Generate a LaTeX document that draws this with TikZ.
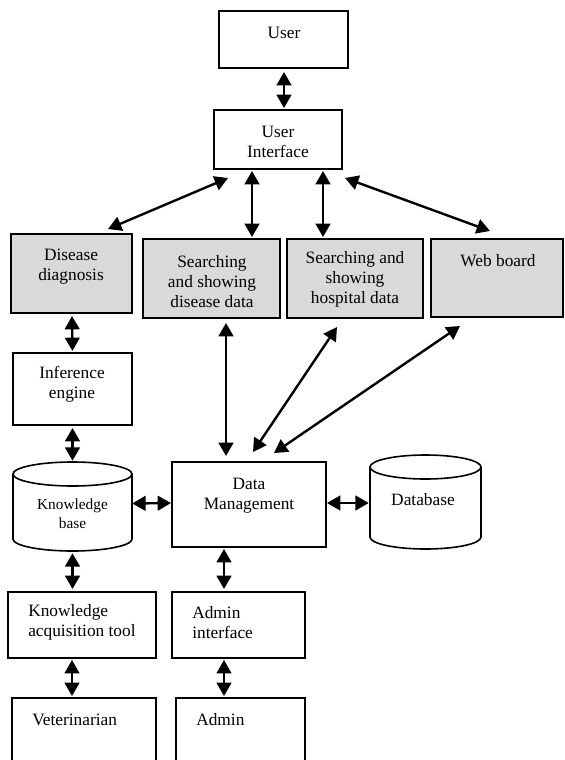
\documentclass[tikz,border=0pt]{standalone}
\usepackage{fontspec}
\setmainfont{Liberation Serif}
\usetikzlibrary{arrows.meta,calc,fit}
\definecolor{boxgray}{HTML}{D9D9D9}
\tikzset{
  box/.style={draw, line width=1.5pt, inner sep=0pt},
  graybox/.style={box, fill=boxgray},
  ghost/.style={inner sep=0pt},
  cyl/.style={draw, line width=1.2pt},
  conn/.style={{Triangle[width=11pt,length=10pt]}-{Triangle[width=11pt,length=10pt]}, line width=1.8pt},
  txt/.style={inner sep=0pt, font=\fontsize{13pt}{15pt}\selectfont, align=center},
  ltxt/.style={inner sep=0pt, font=\fontsize{13pt}{15pt}\selectfont, align=left, anchor=west},
  stxt/.style={inner sep=0pt, font=\fontsize{11.5pt}{14.25pt}\selectfont, align=center},
}
\begin{document}
\begin{tikzpicture}[x=0.75pt,y=-0.75pt]
\useasboundingbox (0,0) rectangle (564,760);
\clip (0,0) rectangle (564,760);
% boxes
\node[box, fit={(219,11) (348,68)}] (user) {};
\node[box, fit={(214,110) (342,169)}] (ui) {};
\node[graybox, fit={(11,234) (132,313)}] (dis) {};
\node[graybox, fit={(143,239) (280,318)}] (sd) {};
\node[graybox, fit={(287,239) (423,318)}] (hosp) {};
\node[graybox, fit={(431,239) (563,317)}] (web) {};
\node[box, fit={(13,353) (132,425)}] (inf) {};
\node[ghost, fit={(13,462) (132,551)}] (kb) {};
\node[box, fit={(172,462) (326,547)}] (dm) {};
\node[ghost, fit={(370,455) (481,549)}] (db) {};
\node[box, fit={(8,592) (156,658)}] (kat) {};
\node[box, fit={(172,592) (305,658)}] (ai) {};
\node[box, fit={(12,698) (156,780)}] (vet) {};
\node[box, fit={(176,698) (305,780)}] (adm) {};
% cylinders
\draw[cyl] (72.5,474) ellipse [x radius=44.625pt, y radius=9pt];
\draw[cyl] (13,474) -- (13,539) arc[start angle=180, end angle=360, x radius=44.625pt, y radius=9pt] -- (132,474);
\draw[cyl] (425.5,467) ellipse [x radius=41.625pt, y radius=9pt];
\draw[cyl] (370,467) -- (370,537) arc[start angle=180, end angle=360, x radius=41.625pt, y radius=9pt] -- (481,467);
% texts
\node[txt] (tuser) at (284,33) {User};
\node[txt] (tui) at (278,142) {User\\Interface};
\node[txt] (tdis) at (71,267) {Disease\\diagnosis};
\node[txt] (tsd) at (212,282) {Searching\\and showing\\disease data};
\node[txt] (thosp) at (355,279) {Searching and\\showing\\hospital data};
\node[txt] (tweb) at (498,261) {Web board};
\node[txt] (tinf) at (72,384.5) {Inference\\engine};
\node[stxt] (tkb) at (72.5,513.5) {Knowledge\\base};
\node[txt] (tdm) at (249,495.5) {Data\\Management};
\node[txt] (tdb) at (423,500) {Database};
\node[ltxt] (tkat) at (28,622) {Knowledge\\acquisition tool};
\node[ltxt] (tai) at (192,623) {Admin\\interface};
\node[ltxt] (tvet) at (32,720) {Veterinarian};
\node[ltxt] (tadm) at (196,720) {Admin};
% connectors
\draw[conn] ($(user.south)+(0.5,3)$) -- ($(ui.north)+(6,-1)$);
\draw[conn] ($(ui.south)+(-50,8)$) -- ($(dis.north)+(36.5,-4)$);
\draw[conn] ($(ui.south)+(-26,1)$) -- ($(sd.north)+(40.5,-1)$);
\draw[conn] ($(ui.south)+(45,1)$) -- ($(hosp.north)+(-32,-1)$);
\draw[conn] ($(ui.south east)+(2,8)$) -- ($(web.north)+(-7,-7)$);
\draw[conn] ($(dis.south)+(0.5,2)$) -- ($(inf.north)+(0,-1)$);
\draw[conn] ($(inf.south)+(0,2)$) -- ($(kb.north)+(0,-1)$);
\draw[conn] ($(sd.south)+(14.5,4)$) -- ($(dm.north)+(-23,-5)$);
\draw[conn] ($(hosp.south)+(-18,8)$) -- ($(dm.north)+(4,-9)$);
\draw[conn] ($(web.south)+(-37,8)$) -- ($(dm.north)+(25,-8)$);
\draw[conn] ($(kb.east)+(0,-3)$) -- ($(dm.west)+(0,-1.5)$);
\draw[conn] ($(dm.east)+(0,-1.5)$) -- ($(db.west)+(-1,1)$);
\draw[conn] ($(kb.south)+(0,2)$) -- ($(kat.north)+(-9.5,-2)$);
\draw[conn] ($(dm.south)+(-25,1)$) -- ($(ai.north)+(-14.5,-2)$);
\draw[conn] ($(kat.south)+(-10,1)$) -- ($(vet.north)+(-12,-1)$);
\draw[conn] ($(ai.south)+(-14.5,1)$) -- ($(adm.north)+(-16.5,-1)$);
\end{tikzpicture}
\end{document}
